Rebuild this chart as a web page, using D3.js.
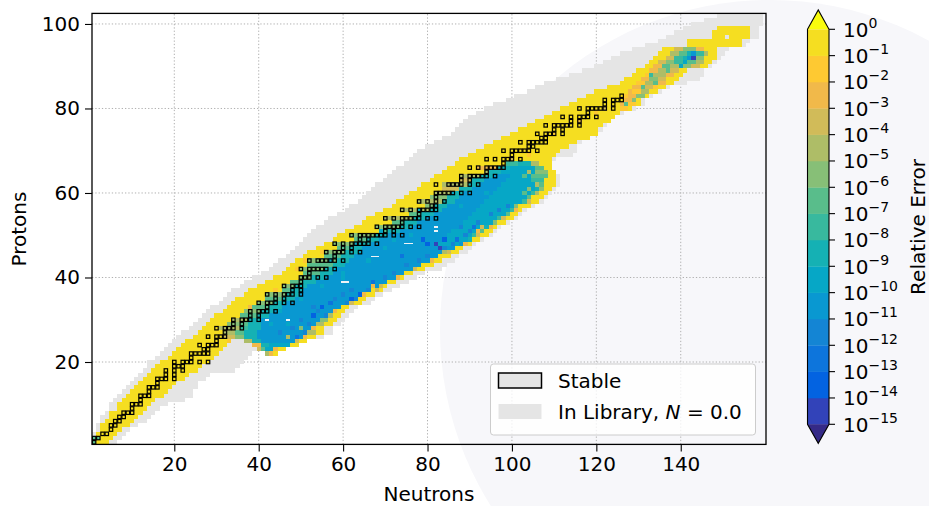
<!DOCTYPE html>
<html>
<head>
<meta charset="utf-8">
<script src="https://cdn.jsdelivr.net/npm/d3@7"></script>
<style>
  body { margin: 0; background: #fff; }
  svg text { font-family: "DejaVu Sans", sans-serif; fill: #000; }
</style>
</head>
<body>
<svg id="chart" width="929" height="506"></svg>
<script>
// ---- data ----
const xTicks = [20, 40, 60, 80, 100, 120, 140];
const yTicks = [20, 40, 60, 80, 100];
const cbTicks = [0, -1, -2, -3, -4, -5, -6, -7, -8, -9, -10, -11, -12, -13, -14, -15];
// colour of each decade, from [1e-15,1e-14] up to [1e-1,1e0]
const binColors = ["#3243b9", "#0363e1", "#0d75dc", "#1485d4", "#0998d1", "#06a7c6", "#15b1b4",
  "#38b99e", "#59bd8b", "#87bf77", "#aebd67", "#d1bb59", "#f1b94a", "#fec932", "#f5de21"];
const underColor = "#352a87";
const overColor = "#f9fb0e";

// nuclides in the library: [Z, first N, last N]
const libRows = [
  [1,1,6],[2,1,7],[3,1,8],[4,2,9],[5,2,11],[6,3,13],[7,3,14],[8,4,15],[9,5,16],[10,5,18],
  [11,6,22],[12,7,24],[13,8,24],[14,9,25],[15,10,25],[16,11,27],[17,12,28],[18,13,34],[19,14,35],[20,14,36],
  [21,16,37],[22,17,38],[23,18,39],[24,19,40],[25,20,40],[26,21,55],[27,22,57],[28,24,57],[29,25,59],[30,26,60],
  [31,27,61],[32,28,62],[33,29,63],[34,31,66],[35,32,67],[36,33,69],[37,34,71],[38,36,73],[39,37,75],[40,39,77],
  [41,41,79],[42,43,83],[43,44,84],[44,45,86],[45,47,87],[46,48,89],[47,49,90],[48,50,91],[49,51,93],[50,52,95],
  [51,53,96],[52,54,97],[53,56,99],[54,57,101],[55,59,102],[56,61,103],[57,62,105],[58,64,107],[59,65,108],[60,66,109],
  [61,67,110],[62,68,111],[63,70,111],[64,71,111],[65,72,110],[66,73,109],[67,75,109],[68,76,110],[69,77,114],[70,78,115],
  [71,80,115],[72,82,116],[73,84,118],[74,86,120],[75,87,121],[76,88,122],[77,89,123],[78,90,124],[79,92,126],[80,94,129],
  [81,96,131],[82,99,131],[83,101,133],[84,104,135],[85,106,137],[86,108,141],[87,111,144],[88,114,145],[89,117,145],[90,120,147],
  [91,122,148],[92,124,149],[93,126,150],[94,129,151],[95,132,155],[96,135,156],[97,137,158],[98,139,158],[99,141,158],[100,143,159],
  [101,146,159],[102,149,159]
];

// relative error per row: [Z, [[first N, last N, log10 error], ...]]
const errRows = [
  [1, [[1,1,-6.5],[2,4,-0.5]]],
  [2, [[1,2,-6.5],[3,5,-0.5]]],
  [3, [[2,6,-0.5]]], [4, [[3,7,-0.5]]], [5, [[3,9,-0.5]]], [6, [[4,10,-0.5]]], [7, [[5,11,-0.5]]],
  [8, [[5,12,-0.5]]], [9, [[7,13,-0.5]]], [10, [[7,14,-0.5]]], [11, [[8,15,-0.5]]], [12, [[9,17,-0.5]]],
  [13, [[10,18,-0.5]]], [14, [[11,19,-0.5]]], [15, [[12,20,-0.5]]], [16, [[13,22,-0.5]]], [17, [[14,23,-0.5]]],
  [18, [[15,25,-0.5]]], [19, [[16,26,-0.5]]], [20, [[17,28,-0.5]]], [21, [[19,29,-0.5]]],
  [22, [[20,30,-0.5],[42,42,-4.5],[43,43,-2.5],[44,44,-0.5]]],
  [23, [[21,31,-0.5],[40,40,-3.5],[41,41,-6.5],[42,44,-9.5],[45,46,-0.5]]],
  [24, [[22,32,-0.5],[39,40,-2.5],[41,42,-8.5],[43,47,-9.5],[48,49,-0.5]]],
  [25, [[23,32,-0.5],[33,33,-1.5],[37,38,-4.5],[39,40,-8.5],[41,48,-10.5],[49,49,-3.5],[50,51,-0.5]]],
  [26, [[25,31,-0.5],[32,34,-3.5],[35,36,-5.5],[37,39,-8.5],[40,50,-10.5],[51,51,-2.5],[52,53,-0.5]]],
  [27, [[26,31,-0.5],[32,34,-4.5],[35,36,-6.5],[37,39,-8.5],[40,51,-10.5],[52,53,-4.5],[54,55,-0.5]]],
  [28, [[27,30,-0.5],[31,35,-4.5],[36,37,-7.5],[38,40,-8.5],[41,52,-10.5],[53,53,-2.5],[54,55,-0.5]]],
  [29, [[28,32,-0.5],[33,35,-5.5],[36,37,-6.5],[38,40,-8.5],[41,53,-10.5],[54,55,-4.5],[56,57,-0.5]]],
  [30, [[29,33,-0.5],[34,37,-4.5],[38,40,-8.5],[41,54,-10.5],[55,56,-5.5],[57,58,-0.5]]],
  [31, [[30,35,-0.5],[36,39,-6.5],[40,42,-8.5],[43,55,-10.5],[56,57,-4.5],[58,59,-0.5]]],
  [32, [[32,36,-0.5],[37,40,-5.5],[41,43,-8.5],[44,57,-10.5],[58,58,-2.5],[59,60,-0.5]]],
  [33, [[33,38,-0.5],[39,42,-6.5],[43,45,-8.5],[46,59,-10.5],[60,61,-0.5]]],
  [34, [[34,39,-0.5],[40,43,-5.5],[44,46,-8.5],[47,61,-10.5],[62,62,-3.5],[63,64,-0.5]]],
  [35, [[35,41,-0.5],[42,45,-6.5],[46,48,-8.5],[49,62,-10.5],[63,65,-0.5]]],
  [36, [[37,41,-0.5],[42,46,-5.5],[47,49,-8.5],[50,64,-10.5],[65,65,-2.5],[66,67,-0.5]]],
  [37, [[38,45,-0.5],[46,47,-6.5],[48,50,-8.5],[51,66,-10.5],[67,69,-0.5]]],
  [38, [[40,45,-0.5],[46,48,-5.5],[49,51,-8.5],[52,68,-10.5],[69,69,-3.5],[70,70,-0.5]]],
  [39, [[42,47,-0.5],[48,50,-6.5],[51,53,-8.5],[54,70,-10.5],[71,72,-0.5]]],
  [40, [[44,49,-0.5],[50,52,-5.5],[53,55,-8.5],[56,72,-10.5],[73,73,-2.5],[74,74,-0.5]]],
  [41, [[46,50,-0.5],[51,54,-6.5],[55,57,-8.5],[58,74,-10.5],[75,76,-0.5]]],
  [42, [[47,49,-0.5],[50,55,-5.5],[56,58,-8.5],[59,76,-10.5],[77,77,-3.5],[78,79,-0.5]]],
  [43, [[48,51,-0.5],[52,57,-6.5],[58,60,-8.5],[61,78,-10.5],[79,81,-0.5]]],
  [44, [[49,51,-0.5],[52,58,-5.5],[59,61,-8.5],[62,80,-10.5],[81,81,-2.5],[82,83,-0.5]]],
  [45, [[51,55,-0.5],[56,59,-6.5],[60,62,-8.5],[63,82,-10.5],[83,85,-0.5]]],
  [46, [[52,55,-0.5],[56,60,-5.5],[61,63,-8.5],[64,84,-10.5],[85,85,-3.5],[86,87,-0.5]]],
  [47, [[54,58,-0.5],[59,61,-6.5],[62,64,-8.5],[65,86,-10.5],[87,88,-0.5]]],
  [48, [[56,57,-0.5],[58,63,-5.5],[64,66,-8.5],[67,82,-10.5],[83,87,-9.5],[88,88,-10.5],[89,89,-2.5],[90,90,-0.5]]],
  [49, [[58,62,-0.5],[63,65,-6.5],[66,68,-8.5],[69,83,-10.5],[84,89,-9.5],[90,90,-8.5],[91,92,-0.5]]],
  [50, [[59,61,-0.5],[62,67,-5.5],[68,70,-8.5],[71,84,-10.5],[85,90,-9.5],[91,91,-7.5],[92,92,-3.5],[93,94,-0.5]]],
  [51, [[61,68,-0.5],[69,70,-6.5],[71,73,-8.5],[74,85,-10.5],[86,92,-9.5],[93,93,-6.5],[94,95,-0.5]]],
  [52, [[63,67,-0.5],[68,73,-5.5],[74,76,-8.5],[77,87,-10.5],[88,93,-9.5],[94,94,-8.5],[95,95,-2.5],[96,96,-0.5]]],
  [53, [[65,71,-0.5],[72,74,-6.5],[75,77,-8.5],[78,88,-10.5],[89,95,-9.5],[96,96,-5.5],[97,98,-0.5]]],
  [54, [[66,69,-0.5],[70,76,-4.5],[77,79,-8.5],[80,89,-10.5],[90,96,-9.5],[97,97,-7.5],[98,98,-3.5],[99,100,-0.5]]],
  [55, [[68,75,-0.5],[76,78,-6.5],[79,81,-8.5],[82,90,-10.5],[91,98,-9.5],[99,99,-6.5],[100,101,-0.5]]],
  [56, [[70,73,-0.5],[74,80,-4.5],[81,83,-8.5],[84,91,-10.5],[92,99,-9.5],[100,100,-7.5],[101,101,-2.5],[102,102,-0.5]]],
  [57, [[72,79,-0.5],[80,81,-5.5],[82,84,-8.5],[85,92,-10.5],[93,100,-9.5],[101,101,-5.5],[102,104,-0.5]]],
  [58, [[73,77,-0.5],[78,83,-4.5],[84,86,-8.5],[87,93,-10.5],[94,102,-9.5],[103,103,-7.5],[104,104,-3.5],[105,106,-0.5]]],
  [59, [[75,80,-0.5],[81,84,-5.5],[85,87,-8.5],[88,94,-10.5],[95,103,-9.5],[104,104,-6.5],[105,107,-0.5]]],
  [60, [[76,81,-0.5],[82,85,-4.5],[86,88,-8.5],[89,95,-10.5],[96,104,-9.5],[105,105,-7.5],[106,106,-4.5],[107,108,-0.5]]],
  [61, [[78,83,-0.5],[84,87,-3.5],[88,90,-8.5],[91,96,-10.5],[97,105,-9.5],[106,106,-8.5],[107,107,-5.5],[108,109,-0.5]]],
  [62, [[79,83,-0.5],[84,89,-4.5],[90,92,-8.5],[93,97,-10.5],[98,105,-9.5],[106,107,-6.5],[108,110,-0.5]]],
  [63, [[81,87,-0.5],[88,90,-3.5],[91,93,-8.5],[94,98,-10.5],[99,104,-9.5],[105,107,-7.5],[108,110,-0.5]]],
  [64, [[82,87,-0.5],[88,92,-4.5],[93,95,-8.5],[96,99,-10.5],[100,104,-9.5],[105,108,-6.5],[109,110,-0.5]]],
  [65, [[84,93,-0.5],[94,94,-4.5],[95,97,-8.5],[98,105,-9.5],[106,108,-5.5],[109,110,-0.5]]],
  [66, [[85,91,-0.5],[92,96,-2.5],[97,99,-8.5],[100,105,-9.5],[106,107,-6.5],[108,109,-0.5]]],
  [67, [[87,98,-0.5],[99,101,-7.5],[102,104,-8.5],[105,106,-4.5],[107,109,-0.5]]],
  [68, [[88,109,-0.5]]], [69, [[90,110,-0.5]]], [70, [[92,111,-0.5]]], [71, [[94,113,-0.5]]],
  [72, [[96,115,-0.5]]], [73, [[98,118,-0.5]]], [74, [[100,120,-0.5]]], [75, [[102,120,-0.5]]],
  [76, [[104,121,-0.5]]], [77, [[106,123,-0.5]]], [78, [[108,124,-0.5]]], [79, [[110,125,-0.5]]],
  [80, [[112,125,-0.5],[126,127,-1.5],[128,128,-0.5]]],
  [81, [[114,125,-0.5],[126,126,-2.5],[127,127,-6.5],[128,129,-1.5],[130,130,-0.5]]],
  [82, [[116,126,-0.5],[127,128,-2.5],[129,129,-5.5],[130,130,-0.5]]],
  [83, [[118,126,-0.5],[127,127,-1.5],[128,129,-2.5],[130,131,-5.5],[132,132,-0.5]]],
  [84, [[120,127,-0.5],[128,128,-2.5],[129,130,-1.5],[131,132,-4.5],[133,134,-0.5]]],
  [85, [[123,128,-0.5],[129,130,-2.5],[131,131,-6.5],[132,133,-3.5],[134,134,-1.5],[135,136,-0.5]]],
  [86, [[126,129,-0.5],[130,131,-1.5],[132,133,-4.5],[134,134,-6.5],[135,136,-2.5],[137,138,-0.5]]],
  [87, [[127,130,-0.5],[131,132,-2.5],[133,134,-5.5],[135,136,-3.5],[137,139,-0.5]]],
  [88, [[129,131,-0.5],[132,132,-1.5],[133,133,-7.5],[134,136,-4.5],[137,138,-2.5],[139,140,-0.5]]],
  [89, [[130,132,-0.5],[133,134,-2.5],[135,136,-4.5],[137,137,-6.5],[138,139,-3.5],[140,141,-0.5]]],
  [90, [[132,133,-0.5],[134,135,-2.5],[136,137,-6.5],[138,139,-4.5],[140,140,-9.5],[141,142,-5.5],[143,144,-3.5],[145,146,-0.5]]],
  [91, [[133,134,-0.5],[135,136,-3.5],[137,138,-5.5],[139,140,-7.5],[141,141,-9.5],[142,143,-6.5],[144,145,-4.5],[146,147,-0.5]]],
  [92, [[134,136,-0.5],[137,138,-3.5],[139,140,-7.5],[141,141,-8.5],[142,142,-10.5],[143,143,-14.5],[144,145,-5.5],[146,148,-0.5]]],
  [93, [[135,137,-0.5],[138,139,-4.5],[140,141,-6.5],[142,142,-8.5],[143,143,-10.5],[144,145,-7.5],[146,146,-4.5],[147,148,-0.5]]],
  [94, [[136,138,-0.5],[139,140,-3.5],[141,143,-5.5],[144,145,-2.5],[146,148,-0.5]]],
  [95, [[142,154,-0.5]]], [96, [[142,154,-0.5]]],
  [97, [[148,150,-0.5],[152,156,-0.5]]], [98, [[148,156,-0.5]]], [99, [[149,156,-0.5]]]
];

// single cells that differ from their row: [N, Z, log10 error]
const spotCells = [
  [45,27,-11.5],[48,28,-11.5],[50,30,-11.5],[53,33,-11.5],[54,32,-11.5],[56,31,-11.5],[58,35,-11.5],
  [60,36,-11.5],[61,34,-11.5],[62,37,-11.5],[63,35,-11.5],[66,37,-11.5],[70,40,-11.5],[72,41,-11.5],
  [75,43,-11.5],[78,44,-11.5],[80,45,-11.5],[84,47,-11.5],[86,48,-11.5],[89,50,-11.5],[90,51,-11.5],
  [88,52,-11.5],[92,53,-11.5],[95,55,-11.5],[97,56,-11.5],[99,57,-11.5],[51,27,-11.5],[52,29,-11.5],
  [57,34,-12.5],[67,39,-12.5],[74,45,-12.5],[91,52,-12.5],[87,49,-12.5],[49,26,-12.5],
  [53,31,-13.5],[55,33,-13.5],[64,36,-13.5],[62,35,-13.5],[79,49,-13.5],[80,48,-13.5],[84,49,-13.5],
  [82,48,-14.5],[83,47,-14.5],
  [45,32,-9.5],[47,29,-9.5],[43,29,-9.5],[50,35,-9.5],[55,38,-9.5],[58,42,-9.5],[60,41,-9.5],
  [64,46,-9.5],[66,44,-9.5],[70,47,-9.5],[72,49,-9.5],[76,50,-9.5],[82,54,-9.5],[88,57,-9.5],
  [94,60,-9.5],[98,62,-9.5],[60,40,-9.5],[57,44,-9.5],[63,48,-9.5],[69,51,-9.5],[78,56,-9.5],[86,60,-9.5],
  [50,28,-5.5],[47,26,-4.5],[44,23,-2.5],[67,38,-2.5],[68,37,-3.5],[92,51,-2.5],[93,52,-3.5],
  [84,46,-4.5],[103,60,-6.5],[104,61,-5.5],[106,62,-4.5],[103,64,-6.5],[104,65,-4.5],
  [49,42,-1.5],[51,44,-1.5],[55,46,-1.5],[44,37,-1.5],[38,33,-2.5],
  [100,68,-3.5],[104,69,-1.5],[110,74,-1.5],[116,77,-2.5],[120,79,-1.5],[122,80,-3.5]
];

// pale dashes inside the blue region: [N, Z]
const gapCells = [[42,30],[47,30],[60,39],[61,39],[67,45],[68,45],[75,48],[76,48],[82,51],[82,52]];

// stable nuclides: [Z, [N, ...]]
const stable = [
  [1,[1]],[2,[1,2]],[3,[3,4]],[4,[5]],[5,[5,6]],[6,[6,7]],[7,[7,8]],[8,[8,9,10]],[9,[10]],[10,[10,11,12]],
  [11,[12]],[12,[12,13,14]],[13,[14]],[14,[14,15,16]],[15,[16]],[16,[16,17,18,20]],[17,[18,20]],[18,[18,20,22]],
  [19,[20,21,22]],[20,[20,22,23,24,26,28]],[21,[24]],[22,[24,25,26,27,28]],[23,[27,28]],[24,[26,28,29,30]],
  [25,[30]],[26,[28,30,31,32]],[27,[32]],[28,[30,32,33,34,36]],[29,[34,36]],[30,[34,36,37,38,40]],
  [31,[38,40]],[32,[38,40,41,42,44]],[33,[42]],[34,[40,42,43,44,46,48]],[35,[44,46]],[36,[42,44,46,47,48,50]],
  [37,[48,50]],[38,[46,48,49,50]],[39,[50]],[40,[50,51,52,54,56]],[41,[52]],[42,[50,52,53,54,55,56,58]],
  [44,[52,54,55,56,57,58,60]],[45,[58]],[46,[56,58,59,60,62,64]],[47,[60,62]],[48,[58,60,62,63,64,65,66,68]],
  [49,[64,66]],[50,[62,64,65,66,67,68,69,70,72,74]],[51,[70,72]],[52,[68,70,71,72,73,74,76,78]],[53,[74]],
  [54,[70,72,74,75,76,77,78,80,82]],[55,[78]],[56,[74,76,78,79,80,81,82]],[57,[81,82]],[58,[78,80,82,84]],
  [59,[82]],[60,[82,83,84,85,86,88,90]],[62,[82,85,86,87,88,90,92]],[63,[88,90]],[64,[88,90,91,92,93,94,96]],
  [65,[94]],[66,[90,92,94,95,96,97,98]],[67,[98]],[68,[94,96,98,99,100,102]],[69,[100]],
  [70,[98,100,101,102,103,104,106]],[71,[104,105]],[72,[102,104,105,106,107,108]],[73,[107,108]],
  [74,[106,108,109,110,112]],[75,[110,112]],[76,[108,110,111,112,113,114,116]],[77,[114,116]],
  [78,[112,114,116,117,118,120]],[79,[118]],[80,[116,118,119,120,121,122,124]],[81,[122,124]],
  [82,[122,124,125,126]],[83,[126]]
];

// ---- drawing ----
const svg = d3.select("#chart");
const W = 929, H = 506;

const x = d3.scaleLinear().domain([0.5, 160.2]).range([92, 766]);
const y = d3.scaleLinear().domain([0.5, 102.5]).range([444.4, 13.4]);
const color = d3.scaleThreshold()
  .domain([-14, -13, -12, -11, -10, -9, -8, -7, -6, -5, -4, -3, -2, -1])
  .range(binColors);

// faint watermark behind everything
svg.append("rect").attr("width", W).attr("height", H).attr("fill", "#fff");
svg.append("circle").attr("cx", 770).attr("cy", 330).attr("r", 330).attr("fill", "#f7f7fa");

// grid (below the cells)
const grid = svg.append("g").attr("stroke", "#b0b0b0").attr("stroke-width", 1)
  .attr("stroke-dasharray", "1.3,2");
grid.selectAll(".gx").data(xTicks).join("line")
  .attr("x1", d => x(d)).attr("x2", d => x(d)).attr("y1", y.range()[0]).attr("y2", y.range()[1]);
grid.selectAll(".gy").data(yTicks).join("line")
  .attr("y1", d => y(d)).attr("y2", d => y(d)).attr("x1", x.range()[0]).attr("x2", x.range()[1]);

svg.append("clipPath").attr("id", "plotclip").append("rect")
  .attr("x", 92).attr("y", 13.4).attr("width", 674).attr("height", 431);
const cells = svg.append("g").attr("clip-path", "url(#plotclip)").attr("shape-rendering", "crispEdges");

// library cells
cells.selectAll(".lib").data(libRows).join("rect")
  .attr("x", d => x(d[1] - 0.5)).attr("width", d => x(d[2] + 0.5) - x(d[1] - 0.5))
  .attr("y", d => y(d[0] + 0.5)).attr("height", d => y(d[0] - 0.5) - y(d[0] + 0.5))
  .attr("fill", "#e5e5e5");

// error runs
const runs = errRows.flatMap(([z, list]) => list.map(r => ({ z, n0: r[0], n1: r[1], e: r[2] })));
cells.selectAll(".run").data(runs).join("rect")
  .attr("x", d => x(d.n0 - 0.5)).attr("width", d => x(d.n1 + 0.5) - x(d.n0 - 0.5))
  .attr("y", d => y(d.z + 0.5)).attr("height", d => y(d.z - 0.5) - y(d.z + 0.5))
  .attr("fill", d => color(d.e));

cells.selectAll(".spot").data(spotCells).join("rect")
  .attr("x", d => x(d[0] - 0.5)).attr("width", d => x(d[0] + 0.5) - x(d[0] - 0.5))
  .attr("y", d => y(d[1] + 0.5)).attr("height", d => y(d[1] - 0.5) - y(d[1] + 0.5))
  .attr("fill", d => color(d[2]));

cells.selectAll(".gap").data(gapCells).join("rect")
  .attr("x", d => x(d[0] - 0.5)).attr("width", d => x(d[0] + 0.5) - x(d[0] - 0.5))
  .attr("y", d => y(d[1]) - 0.8).attr("height", 1.6)
  .attr("fill", "#eef3f6");

// stable squares
const stableCells = stable.flatMap(([z, ns]) => ns.map(n => ({ z, n })));
svg.append("g").attr("clip-path", "url(#plotclip)")
  .selectAll("rect").data(stableCells).join("rect")
  .attr("x", d => x(d.n - 0.5) + 0.4).attr("width", d => x(d.n + 0.5) - x(d.n - 0.5) - 0.8)
  .attr("y", d => y(d.z + 0.5) + 0.4).attr("height", d => y(d.z - 0.5) - y(d.z + 0.5) - 0.8)
  .attr("fill", "none").attr("stroke", "#000").attr("stroke-width", 1.2);

// axes
const xAxis = svg.append("g").attr("transform", "translate(0,444.4)")
  .call(d3.axisBottom(x).tickValues(xTicks).tickSize(7).tickPadding(5));
const yAxis = svg.append("g").attr("transform", "translate(92,0)")
  .call(d3.axisLeft(y).tickValues(yTicks).tickSize(7).tickPadding(5));
[xAxis, yAxis].forEach(g => {
  g.select(".domain").remove();
  g.selectAll("text").attr("font-size", 20).attr("font-family", "DejaVu Sans");
  g.selectAll("line").attr("stroke", "#000").attr("stroke-width", 1.1);
});
svg.append("rect").attr("x", 92).attr("y", 13.4).attr("width", 674).attr("height", 431)
  .attr("fill", "none").attr("stroke", "#000").attr("stroke-width", 1.3);

svg.append("text").attr("x", 429).attr("y", 501).attr("text-anchor", "middle")
  .attr("font-size", 20).text("Neutrons");
svg.append("text").attr("transform", "translate(26,229) rotate(-90)").attr("text-anchor", "middle")
  .attr("font-size", 20).text("Protons");

// legend
const lg = svg.append("g");
lg.append("rect").attr("x", 490.5).attr("y", 364).attr("width", 265).attr("height", 71).attr("rx", 3)
  .attr("fill", "#fff").attr("fill-opacity", 0.8).attr("stroke", "#cccccc").attr("stroke-width", 1);
lg.append("rect").attr("x", 498.5).attr("y", 373).attr("width", 43).attr("height", 15)
  .attr("fill", "#e5e5e5").attr("stroke", "#000").attr("stroke-width", 1.5);
lg.append("rect").attr("x", 498.5).attr("y", 404).attr("width", 43).attr("height", 15)
  .attr("fill", "#e5e5e5");
lg.append("text").attr("x", 558).attr("y", 388).attr("font-size", 20).text("Stable");
const t2 = lg.append("text").attr("x", 558).attr("y", 419).attr("font-size", 20);
t2.append("tspan").text("In Library, ");
t2.append("tspan").attr("font-style", "italic").text("N");
t2.append("tspan").text(" = 0.0");

// colour bar
const cb = d3.scaleLinear().domain([0, -15]).range([29.3, 424.3]);
const cbx0 = 807.5, cbx1 = 829;
const cbg = svg.append("g");
cbg.selectAll(".bin").data(binColors).join("rect")
  .attr("x", cbx0).attr("width", cbx1 - cbx0)
  .attr("y", (d, i) => cb(-14 + i)).attr("height", (d, i) => cb(-15 + i) - cb(-14 + i) + 0.3)
  .attr("fill", d => d);
cbg.append("path").attr("d", `M${cbx0},${cb(0)}L${(cbx0 + cbx1) / 2},10L${cbx1},${cb(0)}Z`).attr("fill", overColor);
cbg.append("path").attr("d", `M${cbx0},${cb(-15)}L${(cbx0 + cbx1) / 2},443.3L${cbx1},${cb(-15)}Z`).attr("fill", underColor);
cbg.append("path")
  .attr("d", `M${cbx0},${cb(0)}L${(cbx0 + cbx1) / 2},10L${cbx1},${cb(0)}L${cbx1},${cb(-15)}L${(cbx0 + cbx1) / 2},443.3L${cbx0},${cb(-15)}Z`)
  .attr("fill", "none").attr("stroke", "#000").attr("stroke-width", 1.1);
cbg.selectAll(".tk").data(cbTicks).join("line")
  .attr("x1", cbx1).attr("x2", cbx1 + 6).attr("y1", d => cb(d)).attr("y2", d => cb(d))
  .attr("stroke", "#000").attr("stroke-width", 1.1);
cbg.selectAll(".lb").data(cbTicks).join("text")
  .attr("x", 843).attr("y", d => cb(d) + 7.3).attr("font-size", 20)
  .each(function (d) {
    const t = d3.select(this);
    t.append("tspan").text("10");
    t.append("tspan").attr("font-size", 14).attr("dy", -9).text(d === 0 ? "0" : "\u2212" + (-d));
  });
svg.append("text").attr("transform", "translate(925,227) rotate(-90)").attr("text-anchor", "middle")
  .attr("font-size", 20).text("Relative Error");
</script>
</body>
</html>
